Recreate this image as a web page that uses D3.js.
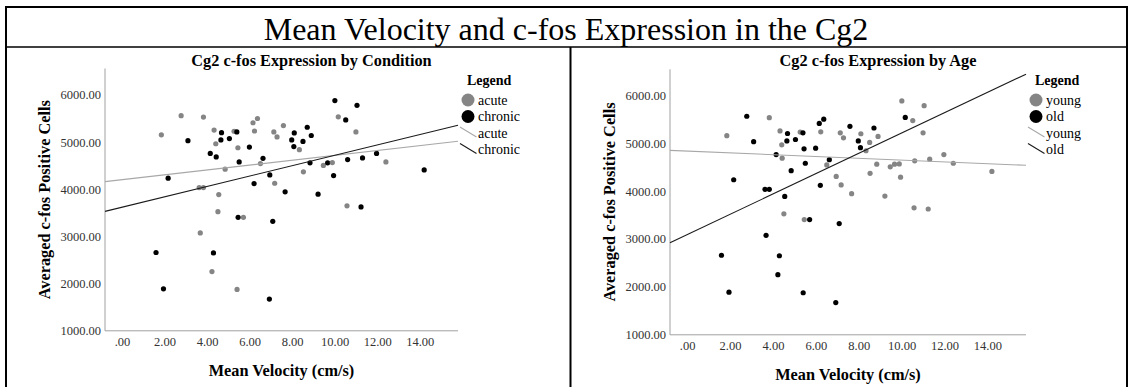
<!DOCTYPE html>
<html>
<head>
<meta charset="utf-8">
<script src="https://cdn.jsdelivr.net/npm/d3@7/dist/d3.min.js"></script>
<style>
  html, body { margin: 0; padding: 0; background: #fff; }
  svg { display: block; }
  text { font-family: "Liberation Serif", "Times New Roman", serif; }
</style>
</head>
<body>
<svg id="chart" width="1129" height="387"></svg>
<script>
// ---------------- DATA ----------------
const velocity = [1.85, 2.78, 3.83, 3.10, 2.17, 4.33, 4.68, 5.27, 5.40, 4.65,
  4.41, 5.05, 5.45, 5.99, 6.16, 6.37, 6.23, 7.14, 7.29, 7.59,
  4.15, 4.43, 5.51, 6.63, 6.51, 4.85, 6.95, 6.21, 3.63, 3.83,
  7.18, 4.55, 7.67, 10.01, 11.05, 10.17, 10.52, 11.00, 8.10, 8.71,
  7.98, 8.51, 8.90, 8.08, 8.34, 8.84, 8.53, 9.47, 9.67, 9.89,
  9.95, 10.61, 11.31, 11.97, 12.41, 14.21, 9.22, 10.58, 11.24, 4.51,
  5.46, 5.71, 7.09, 3.68, 1.60, 4.30, 4.23, 1.95, 5.41, 6.93];
const cfos = [5155, 5560, 5530, 5030, 4235, 5255, 5200, 5230, 5215, 5045,
  4965, 5075, 4880, 4895, 5410, 5500, 5235, 5215, 5110, 5350,
  4760, 4685, 4580, 4655, 4545, 4425, 4305, 4120, 4036, 4036,
  4128, 3887, 3945, 5880, 5780, 5535, 5470, 5215, 5195, 5315,
  5045, 5015, 5140, 4905, 4840, 4560, 4370, 4505, 4560, 4565,
  4290, 4630, 4665, 4760, 4580, 4410, 3895, 3650, 3625, 3525,
  3405, 3405, 3320, 3075, 2660, 2650, 2255, 1890, 1877, 1672];
const condition = ["acute","acute","acute","chronic","chronic","acute","chronic","acute","chronic","chronic",
  "acute","chronic","acute","chronic","acute","acute","acute","acute","acute","acute",
  "chronic","chronic","chronic","chronic","acute","acute","chronic","chronic","acute","acute",
  "acute","acute","chronic","chronic","chronic","acute","chronic","acute","chronic","chronic",
  "chronic","chronic","chronic","chronic","acute","chronic","acute","acute","chronic","acute",
  "chronic","chronic","chronic","chronic","acute","chronic","chronic","acute","chronic","acute",
  "chronic","acute","chronic","acute","chronic","chronic","acute","chronic","acute","chronic"];
const age = ["young","old","young","old","old","young","old","young","old","old",
  "young","old","old","old","old","old","young","young","young","old",
  "old","young","old","old","young","old","young","old","old","old",
  "young","old","young","young","young","old","young","young","young","old",
  "old","young","young","old","young","young","young","young","young","young",
  "young","young","young","young","young","young","young","young","young","young",
  "young","old","old","old","old","old","old","old","old","old"];

const conditionGroups = ["acute", "chronic"];
const ageGroups = ["young", "old"];
// fit lines (intercept, slope)
const conditionFitIntercept = [4203, 3619];
const conditionFitSlope = [51.6, 110.1];
const ageFitIntercept = [4834, 3090];
const ageFitSlope = [-18.8, 211.9];

const xTicks = [0, 2, 4, 6, 8, 10, 12, 14];
const yTicks = [1000, 2000, 3000, 4000, 5000, 6000];
const xDomain = [-0.8, 15.8];

const mainTitle = "Mean Velocity and c-fos Expression in the Cg2";
const xTitle = "Mean Velocity (cm/s)";
const yTitle = "Averaged c-fos Positive Cells";

// ---------------- DRAW ----------------
const svg = d3.select("#chart");
const W = 1129, H = 387;
const serif = '"Liberation Serif", "Times New Roman", serif';

svg.append("rect").attr("width", W).attr("height", H).attr("fill", "#fff");

// frame
svg.append("rect").attr("x", 6).attr("y", 7).attr("width", 1121).attr("height", 392)
  .attr("fill", "none").attr("stroke", "#000").attr("stroke-width", 2);
svg.append("line").attr("x1", 6).attr("x2", 1127).attr("y1", 47).attr("y2", 47)
  .attr("stroke", "#000").attr("stroke-width", 1.5);
svg.append("line").attr("x1", 570.5).attr("x2", 570.5).attr("y1", 47).attr("y2", H)
  .attr("stroke", "#000").attr("stroke-width", 2);

svg.append("text").attr("x", 566).attr("y", 40).attr("text-anchor", "middle")
  .attr("font-size", 32).attr("fill", "#000").text(mainTitle);

const pointColors = ["#858585", "#000000"];
const lineColors = ["#a8a8a8", "#1a1a1a"];

function drawPanel(cfg) {
  const g = svg.append("g");
  const x = d3.scaleLinear().domain(xDomain).range([cfg.left, cfg.right]);
  const y = d3.scaleLinear().domain(cfg.yDomain).range([cfg.bottom, cfg.top]);

  // subtitle
  g.append("text").attr("x", (cfg.left + cfg.right) / 2 + 30).attr("y", 66)
    .attr("text-anchor", "middle").attr("font-size", 16.3).attr("font-weight", "bold")
    .text(cfg.subtitle);

  // axes
  const xAxis = d3.axisBottom(x).tickValues(xTicks).tickSize(0).tickPadding(6)
    .tickFormat(d => d3.format(".2f")(d).replace(/^0\./, "."));
  const gx = g.append("g").attr("transform", `translate(0,${cfg.bottom})`).call(xAxis);
  gx.select(".domain").attr("stroke", "#a0a0a0").attr("d", `M${cfg.left},0H${cfg.right}`);
  gx.selectAll("text").attr("font-family", serif).attr("font-size", 12.5).attr("fill", "#333");

  const yAxis = d3.axisLeft(y).tickValues(yTicks).tickSize(0).tickPadding(4)
    .tickFormat(d3.format(".2f"));
  const gy = g.append("g").attr("transform", `translate(${cfg.left},0)`).call(yAxis);
  gy.select(".domain").attr("stroke", "#a0a0a0").attr("d", `M0,${cfg.top}V${cfg.bottom}`);
  gy.selectAll("text").attr("font-family", serif).attr("font-size", 12.5).attr("fill", "#333");

  // axis titles
  g.append("text").attr("x", (cfg.left + cfg.right) / 2).attr("y", cfg.bottom + 45)
    .attr("text-anchor", "middle").attr("font-size", 16.3).attr("font-weight", "bold").text(xTitle);
  g.append("text").attr("transform", `translate(${cfg.left - 55},${(cfg.top + cfg.bottom) / 2}) rotate(-90)`)
    .attr("text-anchor", "middle").attr("font-size", 16.3).attr("font-weight", "bold").text(yTitle);

  // points
  const idx = d3.range(velocity.length);
  g.append("g").selectAll("circle").data(idx).join("circle")
    .attr("cx", i => x(velocity[i])).attr("cy", i => y(cfos[i])).attr("r", 2.6)
    .attr("fill", i => pointColors[cfg.groups.indexOf(cfg.key[i])]);

  // fit lines
  cfg.groups.forEach((grp, k) => {
    const f = v => cfg.intercept[k] + cfg.slope[k] * v;
    g.append("line")
      .attr("x1", x(xDomain[0])).attr("y1", y(f(xDomain[0])))
      .attr("x2", x(xDomain[1])).attr("y2", y(f(xDomain[1])))
      .attr("stroke", lineColors[k]).attr("stroke-width", 1.1);
  });

  // legend
  const lx = cfg.right;
  g.append("text").attr("x", lx + 9).attr("y", 85).attr("font-size", 14).attr("font-weight", "bold").text("Legend");
  cfg.groups.forEach((grp, k) => {
    const cy = 100 + k * 16.5;
    g.append("circle").attr("cx", lx + 10).attr("cy", cy).attr("r", 6.5).attr("fill", pointColors[k]);
    g.append("text").attr("x", lx + 20).attr("y", cy + 4.5).attr("font-size", 14).text(grp);
  });
  cfg.groups.forEach((grp, k) => {
    const cy = 133 + k * 16.5;
    g.append("line").attr("x1", lx + 2).attr("y1", cy - 6).attr("x2", lx + 18.5).attr("y2", cy + 4)
      .attr("stroke", lineColors[k]).attr("stroke-width", 1.1);
    g.append("text").attr("x", lx + 20).attr("y", cy + 4.5).attr("font-size", 14).text(grp);
  });
}

drawPanel({
  left: 105, right: 458, top: 68.5, bottom: 330.8, yDomain: [1000, 6560],
  subtitle: "Cg2 c-fos Expression by Condition",
  key: condition, groups: conditionGroups,
  intercept: conditionFitIntercept, slope: conditionFitSlope
});
drawPanel({
  left: 670, right: 1026, top: 69.3, bottom: 334.8, yDomain: [1000, 6540],
  subtitle: "Cg2 c-fos Expression by Age",
  key: age, groups: ageGroups,
  intercept: ageFitIntercept, slope: ageFitSlope
});
</script>
</body>
</html>
